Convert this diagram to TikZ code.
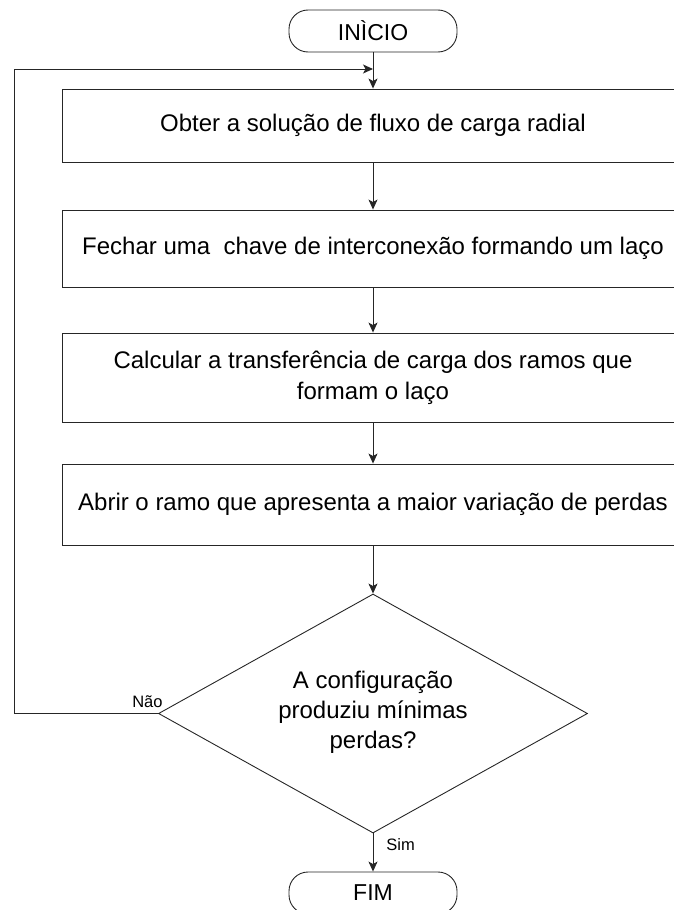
\documentclass[tikz,border=0pt]{standalone}
\usepackage{fontspec}
\setmainfont{Liberation Sans}
\usetikzlibrary{arrows.meta,shapes.geometric}
\begin{document}
\begin{tikzpicture}[x=1pt,y=-1pt,
  line width=0.9pt,
  box/.style={draw=black!85, minimum width=622pt, inner sep=0pt, align=center,
    font=\fontsize{24}{31}\selectfont},
  term/.style={draw=black!85, rounded corners=19pt, minimum width=168pt, minimum height=42pt,
    inner sep=0pt, font=\fontsize{23}{28}\selectfont},
  dia/.style={draw=black!85, diamond, minimum width=429pt, minimum height=239pt, inner sep=0pt},
  arr/.style={draw=black!85, -{Stealth[length=10pt,width=9pt,inset=2.5pt]}},
  lbl/.style={font=\fontsize{16.5}{19}\selectfont, inner sep=0pt}]
\useasboundingbox (0,0) rectangle (674,910);
\clip (0,0) rectangle (674,910);

\node[term] (ini) at (373,31) {INÌCIO};
\node[box, minimum height=73pt] (b1) at (373,125.5) {Obter a solução de fluxo de carga radial};
\node[box, minimum height=77pt] (b2) at (373,248.5) {Fechar uma~ chave de interconexão formando um laço};
\node[box, minimum height=89pt] (b3) at (373,377.5) {Calcular a transferência de carga dos ramos que\\formam o laço};
\node[box, minimum height=81pt] (b4) at (373,504.5) {Abrir o ramo que apresenta a maior variação de perdas};
\node[dia] (d) at (373,713.5) {};
\node[align=center, font=\fontsize{24}{30}\selectfont, inner sep=0pt] (dt) at (373,712) {A configuração\\produziu mínimas\\perdas?};
\node[term] (fim) at (373,893) {FIM};

\coordinate (lb) at (14,713.5);
\coordinate (lt) at (14,69);
\coordinate (lj) at (373,69);

\draw[arr] (ini.south) -- (b1.north);
\draw[arr] (b1.south) -- (b2.north);
\draw[arr] (b2.south) -- (b3.north);
\draw[arr] (b3.south) -- (b4.north);
\draw[arr] (b4.south) -- (d.north);
\draw[arr] (d.south) -- node[lbl, pos=0.44, anchor=base west, xshift=13pt] (sim) {Sim} (fim.north);
\draw[arr] (d.west) -- node[lbl, pos=0, anchor=base east, xshift=5pt, yshift=6pt] (nao) {Não} (lb) -- (lt) -- (lj);
\end{tikzpicture}
\end{document}
